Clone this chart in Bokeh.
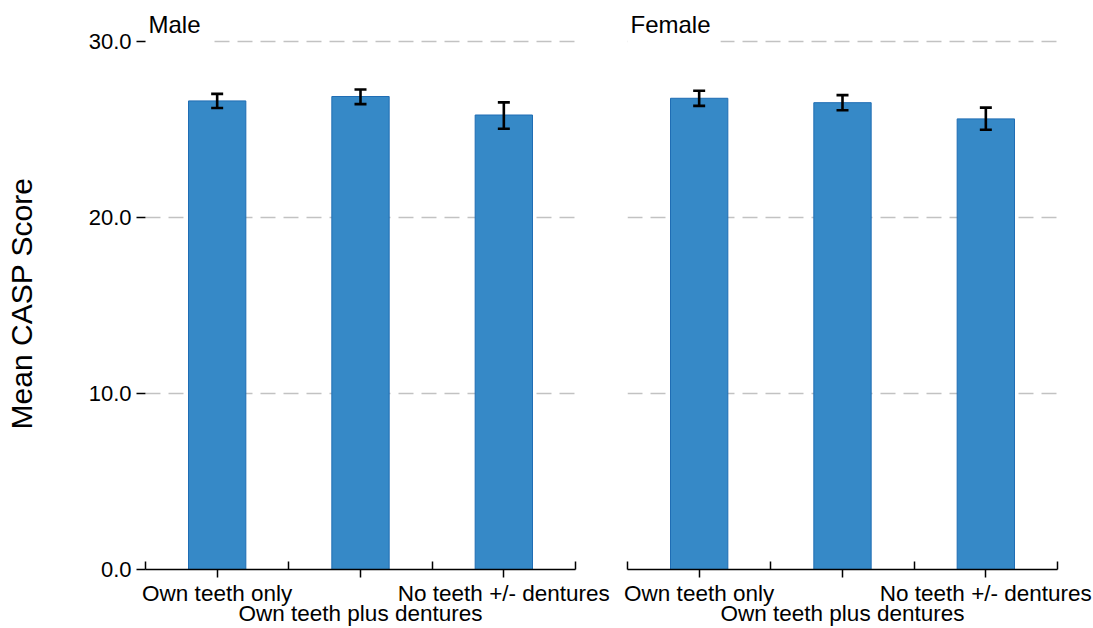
from bokeh.plotting import figure
from bokeh.models import (ColumnDataSource, Range1d, FixedTicker, LinearAxis,
                          Whisker, TeeHead, BoxAnnotation)
from bokeh.layouts import row
from bokeh.embed import file_html
from bokeh.resources import INLINE

# ---- data ----
categories = ["Own teeth only", "Own teeth plus dentures", "No teeth +/- dentures"]
panels = ["Male", "Female"]
male_mean = [26.6, 26.85, 25.8]
male_lower = [26.2, 26.42, 25.02]
male_upper = [27.0, 27.25, 26.52]
female_mean = [26.75, 26.5, 25.58]
female_lower = [26.32, 26.07, 24.96]
female_upper = [27.18, 26.93, 26.22]
y_ticks = [0, 10, 20, 30]
y_tick_labels = ["0.0", "10.0", "20.0", "30.0"]
y_axis_title = "Mean CASP Score"

FONT = "Liberation Sans"
BAR_FILL = "#3689C7"
BAR_LINE = "#1F6DB4"
TOTAL_H = 628

positions = [i + 0.5 for i in range(len(categories))]
boundaries = [float(i) for i in range(len(categories) + 1)]


def make_panel(title, means, lower, upper, width, b_left, b_right, show_y, mask_w):
    p = figure(width=width, height=TOTAL_H,
               x_range=Range1d(0, len(categories)), y_range=Range1d(0, 30.2),
               output_backend="svg", toolbar_location=None,
               min_border_left=b_left, min_border_right=b_right,
               min_border_top=37, min_border_bottom=10)
    p.outline_line_color = None
    p.background_fill_color = "white"
    p.border_fill_color = "white"

    # panel title
    p.title.text = title
    p.title.text_font = FONT
    p.title.text_font_size = "24px"
    p.title.text_font_style = "normal"
    p.title.text_color = "black"
    p.title.align = "left"
    p.title.offset = 3
    p.title.standoff = 0

    src = ColumnDataSource(dict(x=positions, mean=means, lower=lower, upper=upper))
    p.vbar(x="x", top="mean", width=0.4, source=src,
           fill_color=BAR_FILL, line_color=BAR_LINE, line_width=1)
    w = Whisker(source=src, base="x", lower="lower", upper="upper",
                line_color="black", line_width=2.6, level="overlay",
                upper_head=TeeHead(size=12, line_width=2.6, line_color="black"),
                lower_head=TeeHead(size=12, line_width=2.6, line_color="black"))
    p.add_layout(w)

    # grid
    p.xgrid.visible = False
    p.ygrid.ticker = FixedTicker(ticks=y_ticks)
    p.ygrid.grid_line_color = "#c2c2c2"
    p.ygrid.grid_line_width = 1.5
    p.ygrid.grid_line_dash = "15 8"

    # white gap in the top grid line under the panel title
    p.add_layout(BoxAnnotation(left=0, right=mask_w, bottom=y_ticks[-1] - 0.25,
                               top=y_ticks[-1] + 0.25, fill_color="white",
                               fill_alpha=1.0, line_color=None, level="underlay"))

    # y axis
    yax = p.yaxis[0]
    yax.ticker = FixedTicker(ticks=y_ticks)
    yax.major_label_overrides = {t: l for t, l in zip(y_ticks, y_tick_labels)}
    yax.axis_line_color = None
    yax.major_tick_out = 9
    yax.major_tick_in = 0
    yax.major_tick_line_width = 1.5
    yax.minor_tick_line_color = None
    yax.major_label_text_font = FONT
    yax.major_label_text_font_size = "22px"
    yax.major_label_text_color = "black"
    yax.major_label_standoff = 5
    if show_y:
        yax.axis_label = y_axis_title
        yax.axis_label_text_font = FONT
        yax.axis_label_text_font_size = "30px"
        yax.axis_label_text_font_style = "normal"
        yax.axis_label_text_color = "black"
        yax.axis_label_standoff = 48
    else:
        yax.visible = False

    # x axis, first row of labels
    xax = p.xaxis[0]
    xax.ticker = FixedTicker(ticks=positions, minor_ticks=boundaries)
    xax.major_label_overrides = {positions[0]: categories[0],
                                 positions[1]: "",
                                 positions[2]: categories[2]}
    xax.axis_line_width = 1.5
    xax.axis_line_color = "black"
    xax.major_tick_out = 8
    xax.major_tick_in = 0
    xax.major_tick_line_width = 1.5
    xax.minor_tick_in = 8
    xax.minor_tick_out = 0
    xax.minor_tick_line_width = 1.5
    xax.minor_tick_line_color = "black"
    xax.major_label_text_font = FONT
    xax.major_label_text_font_size = "22.5px"
    xax.major_label_text_color = "black"
    xax.major_label_text_line_height = 1.0
    xax.major_label_standoff = 3

    # second row of labels
    x2 = LinearAxis(ticker=FixedTicker(ticks=[positions[1]]),
                    major_label_overrides={positions[1]: categories[1]})
    x2.axis_line_color = None
    x2.major_tick_line_color = None
    x2.minor_tick_line_color = None
    x2.major_tick_out = 0
    x2.major_tick_in = 0
    x2.major_label_text_font = FONT
    x2.major_label_text_font_size = "22.5px"
    x2.major_label_text_color = "black"
    x2.major_label_text_line_height = 1.0
    x2.major_label_standoff = -8
    p.add_layout(x2, "below")
    return p


p1 = make_panel(panels[0], male_mean, male_lower, male_upper, 616, 145, 41, True, 0.47)
p2 = make_panel(panels[1], female_mean, female_lower, female_upper, 477, 11, 36, False, 0.65)

layout = row(p1, p2)
open("out.html", "w").write(file_html(layout, INLINE))
